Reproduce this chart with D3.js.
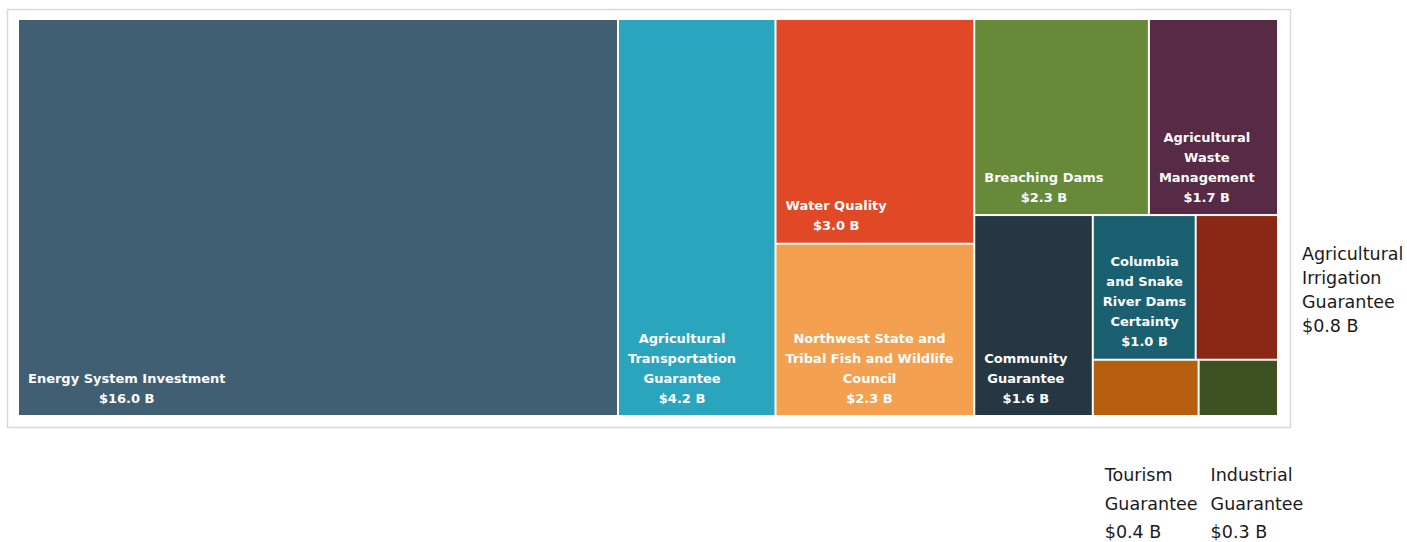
<!DOCTYPE html>
<html>
<head>
<meta charset="utf-8">
<script src="https://cdn.jsdelivr.net/npm/d3@7"></script>
<style>
  body { margin: 0; background: #fff; }
  svg { display: block; }
</style>
</head>
<body>
<div id="chart"></div>
<script>
// programme names and amounts (billions of dollars)
var names = [
    "Energy System Investment",
    "Agricultural Transportation Guarantee",
    "Water Quality",
    "Northwest State and Tribal Fish and Wildlife Council",
    "Breaching Dams",
    "Agricultural Waste Management",
    "Community Guarantee",
    "Columbia and Snake River Dams Certainty",
    "Agricultural Irrigation Guarantee",
    "Tourism Guarantee",
    "Industrial Guarantee"
];
var amounts = [16.0, 4.2, 3.0, 2.3, 2.3, 1.7, 1.6, 1.0, 0.8, 0.4, 0.3];
var colors = ["#415f73", "#2aa5bd", "#e04826", "#f3a151", "#678a3a", "#572a46",
              "#263744", "#1b6070", "#8b2815", "#b6600f", "#3d5123"];
// how many boxes go in each strip of the treemap
var stripSizes = [1, 1, 2, 2, 1, 2, 2];

var W = 1407, H = 542;
var margin = {top: 20, left: 19},
    width = 1258,
    height = 395;

var svg = d3.select("#chart")
  .append("svg")
    .attr("width", W)
    .attr("height", H);

// chart frame
svg.append("rect")
    .attr("x", 7.5).attr("y", 9.5)
    .attr("width", 1283).attr("height", 418)
    .attr("fill", "none")
    .attr("stroke", "#d9d9d9")
    .attr("stroke-width", 1.5);

var g = svg.append("g")
    .attr("transform", "translate(" + margin.left + "," + margin.top + ")");

// strips laid along the short side, the last one takes what is left
function stripTile(parent, x0, y0, x1, y1) {
    var nodes = parent.children, value = parent.value, i = 0;
    stripSizes.forEach(function(count) {
        if (i >= nodes.length) return;
        var kids = nodes.slice(i, i + count);
        var row = {value: d3.sum(kids, function(d) { return d.value; }), children: kids};
        var dx = x1 - x0, dy = y1 - y0;
        if (i + count >= nodes.length) {
            if (dx >= dy) d3.treemapDice(row, x0, y0, x1, y1);
            else d3.treemapSlice(row, x0, y0, x1, y1);
        } else if (dx < dy) {
            var yy = y0 + dy * row.value / value;
            d3.treemapDice(row, x0, y0, x1, yy);
            y0 = yy;
        } else {
            var xx = x0 + dx * row.value / value;
            d3.treemapSlice(row, x0, y0, xx, y1);
            x0 = xx;
        }
        value -= row.value;
        i += count;
    });
}

var data = names.map(function(n, i) { return {name: n, value: amounts[i], color: colors[i]}; });
var root = d3.hierarchy({children: data}).sum(function(d) { return d.value || 0; });

d3.treemap()
    .size([width, height])
    .paddingInner(2)
    .tile(stripTile)(root);

var leaves = root.leaves();

g.selectAll("rect.tile")
  .data(leaves)
  .enter()
  .append("rect")
    .attr("class", "tile")
    .attr("x", function(d) { return d.x0; })
    .attr("y", function(d) { return d.y0; })
    .attr("width", function(d) { return d.x1 - d.x0; })
    .attr("height", function(d) { return d.y1 - d.y0; })
    .attr("fill", function(d) { return d.data.color; });

var fmt = d3.format(".1f");
function money(v) { return "$" + fmt(v) + " B"; }

// measure text with a hidden node
var meas = svg.append("text").attr("visibility", "hidden");
function textWidth(s, font) {
    meas.attr("style", font).text(s);
    return meas.node().getComputedTextLength();
}
function wrap(s, maxW, font) {
    var words = s.split(" "), lines = [], cur = "";
    words.forEach(function(w) {
        var t = cur ? cur + " " + w : w;
        if (cur && textWidth(t, font) > maxW) { lines.push(cur); cur = w; }
        else cur = t;
    });
    if (cur) lines.push(cur);
    return lines;
}

var inFont = "font-family: 'DejaVu Sans', sans-serif; font-size: 13px; font-weight: bold;";
var outFont = "font-family: 'DejaVu Sans', sans-serif; font-size: 17.5px;";
var lh = 20;

leaves.forEach(function(d) {
    var w = d.x1 - d.x0, h = d.y1 - d.y0;
    var avail = w - 16;
    var lines = wrap(d.data.name, avail, inFont);
    lines.push(money(d.data.value));
    var widths = lines.map(function(l) { return textWidth(l, inFont); });
    var fits = d3.max(widths) <= avail && lines.length * lh + 6 <= h;

    if (fits) {
        var bw = d3.max(widths);
        var cx = d.x0 + 9 + bw / 2;
        var lastY = d.y1 - 12.5;
        var t = g.append("text")
            .attr("style", inFont)
            .attr("fill", "#fdfdfd")
            .attr("text-anchor", "middle");
        lines.forEach(function(l, k) {
            t.append("tspan")
                .attr("x", cx)
                .attr("y", lastY - (lines.length - 1 - k) * lh)
                .text(l);
        });
    } else {
        // label does not fit: put it outside the chart
        var below = d.y1 >= height - 1;
        var olines, ox, oy, olh;
        if (below) {
            olines = wrap(d.data.name, w, outFont);
            olh = 28.5;
            ox = d.x0 + 11;
            oy = height + 66;
        } else {
            olines = wrap(d.data.name, W - (margin.left + width + 25), outFont);
            olh = 24;
            ox = width + 25;
        }
        olines.push(money(d.data.value));
        if (!below) {
            var mid = (d.y0 + d.y1) / 2 + 3;
            oy = mid - (olines.length - 1) * olh / 2 + 6;
        }
        var o = g.append("text")
            .attr("style", outFont)
            .attr("fill", "#1a1a1a");
        olines.forEach(function(l, k) {
            o.append("tspan")
                .attr("x", ox)
                .attr("y", oy + k * olh)
                .text(l);
        });
    }
});

meas.remove();
</script>
</body>
</html>
